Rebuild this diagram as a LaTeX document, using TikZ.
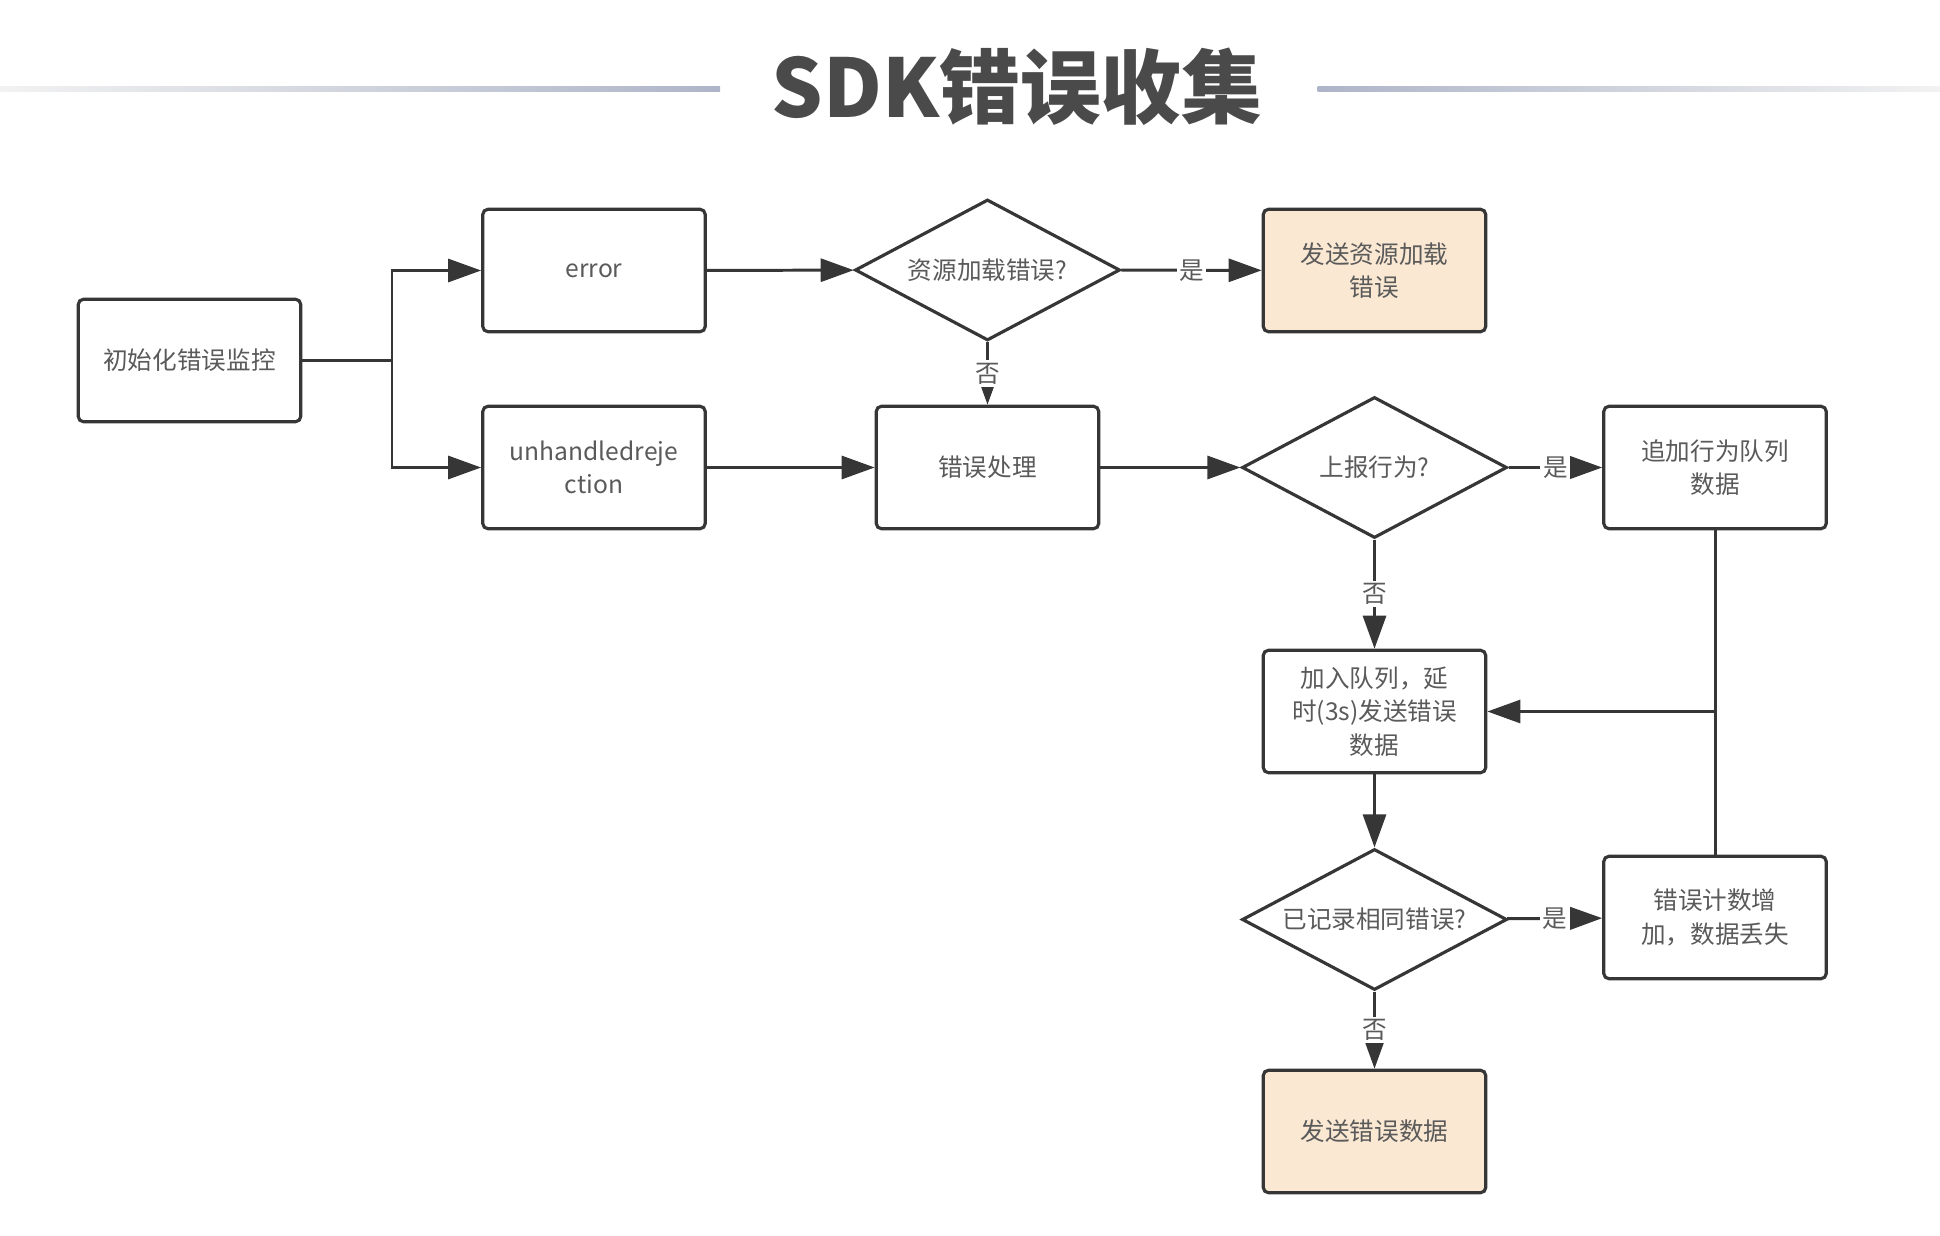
\documentclass[tikz,border=0pt]{standalone}
\usepackage{fontspec}
\setmainfont{Noto Sans CJK SC}
\usetikzlibrary{shapes.geometric,arrows.meta}

\definecolor{linegray}{HTML}{363636}
\definecolor{textgray}{HTML}{5A5A5A}
\definecolor{titlegray}{HTML}{4A4A4A}
\definecolor{peach}{HTML}{FAE8D3}
\definecolor{rulefade}{HTML}{F2F2F2}
\definecolor{ruleblue}{HTML}{AEB5C8}

\begin{document}
\begin{tikzpicture}[
    box/.style={
        rectangle,
        rounded corners=3pt,
        draw=linegray,
        fill=white,
        line width=1.8pt,
        minimum width=4.45cm,
        minimum height=2.45cm,
        align=center,
        text=textgray,
        font=\fontsize{14}{19}\selectfont
    },
    sendbox/.style={
        box,
        fill=peach
    },
    decision/.style={
        diamond,
        aspect=1.88,
        inner sep=0pt,
        draw=linegray,
        fill=white,
        line width=1.8pt,
        minimum width=5.3cm,
        minimum height=2.82cm,
        align=center,
        text=textgray,
        font=\fontsize{14}{19}\selectfont
    },
    conn/.style={
        draw=linegray,
        line width=1.7pt
    },
    arrow/.style={
        conn,
        -{Triangle[length=0.66cm,width=0.46cm]}
    },
    yesno/.style={
        fill=white,
        inner sep=1.5pt,
        text=textgray,
        font=\fontsize{14}{14}\selectfont
    }
]
\useasboundingbox (0,0) rectangle (38.8,-24.72);

% 标题
\shade[left color=rulefade, right color=ruleblue] (0,-1.73) rectangle (14.40,-1.83);
\shade[left color=ruleblue, right color=rulefade] (26.35,-1.73) rectangle (38.8,-1.83);
\node[font=\fontsize{46}{50}\selectfont\bfseries, text=titlegray] (title) at (20.34,-1.73) {SDK错误收集};

% 监听
\node[box] (init) at (3.79,-7.21) {初始化错误监控};
\node[box] (err) at (11.88,-5.41) {error};
\node[box] (unh) at (11.88,-9.35) {unhandledreje\\ction};
\coordinate (split) at (7.84,-7.21);

% 资源错误
\node[decision] (res) at (19.75,-5.40) {资源加载错误?};
\node[sendbox] (sendres) at (27.49,-5.41) {发送资源加载\\错误};

% 错误处理
\node[box] (proc) at (19.75,-9.35) {错误处理};
\node[decision] (report) at (27.49,-9.35) {上报行为?};
\node[box] (append) at (34.30,-9.35) {追加行为队列\\数据};

% 队列
\node[box] (queue) at (27.49,-14.23) {加入队列，延\\时(3s)发送错误\\数据};
\node[decision] (same) at (27.49,-18.39) {已记录相同错误?};
\node[box] (count) at (34.30,-18.35) {错误计数增\\加，数据丢失};
\node[sendbox] (senderr) at (27.49,-22.63) {发送错误数据};

% 连线
\draw[conn] (init) -- (split);
\draw[arrow] (split) |- (err);
\draw[arrow] (split) |- (unh);
\draw[arrow] (err) -- (res);
\draw[arrow] (res) -- node[yesno] {是} (sendres);
\draw[arrow] (res) -- node[yesno] {否} (proc);
\draw[arrow] (unh) -- (proc);
\draw[arrow] (proc) -- (report);
\draw[arrow] (report) -- node[yesno] {是} (append);
\draw[arrow] (report) -- node[yesno] {否} (queue);
\draw[conn] (append) -- (count);
\draw[arrow] (append |- queue) -- (queue);
\draw[arrow] (queue) -- (same);
\draw[arrow] (same) -- node[yesno] {是} (count);
\draw[arrow] (same) -- node[yesno] {否} (senderr);

\end{tikzpicture}
\end{document}
